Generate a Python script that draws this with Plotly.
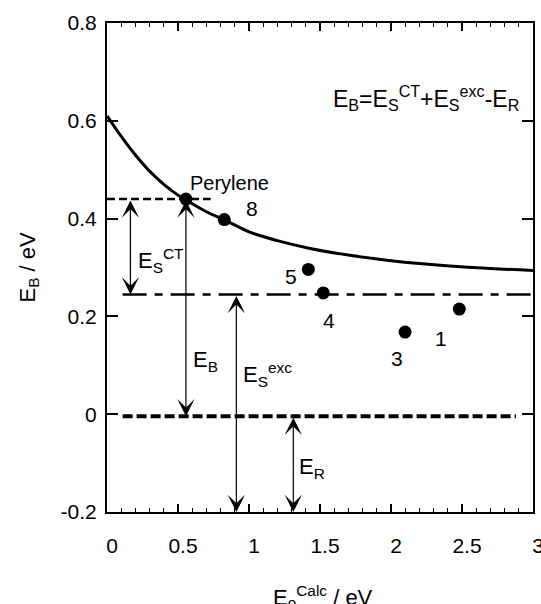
import plotly.graph_objects as go

# ---- data ----
compound_names = ["Perylene", "8", "5", "4", "3", "1"]
compound_e0 = [0.556, 0.826, 1.418, 1.523, 2.099, 2.481]
compound_eb = [0.440, 0.398, 0.296, 0.248, 0.168, 0.215]

curve_e0 = [0.0, 0.1, 0.2, 0.3, 0.4, 0.5, 0.55, 0.7, 0.83, 1.0, 1.2, 1.43, 1.71, 2.0, 2.2, 2.41, 2.7, 3.0]
curve_eb = [0.610, 0.568, 0.530, 0.497, 0.470, 0.448, 0.439, 0.414, 0.397, 0.373, 0.355, 0.339, 0.325, 0.314, 0.308, 0.303, 0.298, 0.294]

ct_level_x = [0.0, 0.73]
ct_level_y = [0.44, 0.44]
exc_level_x = [0.11, 3.0]
exc_level_y = [0.245, 0.245]
zero_level_x = [0.11, 2.88]
zero_level_y = [-0.004, -0.004]

arrow_x = [0.165, 0.556, 0.911, 1.312]
arrow_top = [0.44, 0.44, 0.245, -0.004]
arrow_bottom = [0.245, -0.004, -0.2, -0.2]
arrow_labels = ["E<sub>S</sub><sup>CT</sup>", "E<sub>B</sub>",
                "E<sub>S</sub><sup>exc</sup>", "E<sub>R</sub>"]
arrow_label_x = [0.206, 0.595, 0.947, 1.341]
arrow_label_y = [0.314, 0.109, 0.081, -0.110]

x_tick_vals = [0, 0.5, 1, 1.5, 2, 2.5, 3]
x_tick_text = ["0", "0.5", "1", "1.5", "2", "2.5", "3"]
y_tick_vals = [-0.2, 0, 0.2, 0.4, 0.6, 0.8]
y_tick_text = ["-0.2", "0", "0.2", "0.4", "0.6", "0.8"]

FONT = "Liberation Sans, Arial, sans-serif"

fig = go.Figure()

fig.add_trace(go.Scatter(x=curve_e0, y=curve_eb, mode="lines",
                         line=dict(color="black", width=3, shape="spline"),
                         hoverinfo="skip"))
fig.add_trace(go.Scatter(x=ct_level_x, y=ct_level_y, mode="lines",
                         line=dict(color="black", width=2.5, dash="8px,4px")))
fig.add_trace(go.Scatter(x=exc_level_x, y=exc_level_y, mode="lines",
                         line=dict(color="black", width=2.5, dash="24px,8px,8px,8px")))
fig.add_trace(go.Scatter(x=zero_level_x, y=zero_level_y, mode="lines",
                         line=dict(color="black", width=4, dash="10px,4px")))
fig.add_trace(go.Scatter(x=compound_e0, y=compound_eb, mode="markers",
                         marker=dict(color="black", size=13)))

label_shifts = [(44, 16), (28, 11), (-17, -7), (6, -28), (-8, -26), (-18, -29)]
for name, x, y, (dx, dy) in zip(compound_names, compound_e0, compound_eb, label_shifts):
    fig.add_annotation(x=x, y=y, text=name, showarrow=False,
                       xshift=dx, yshift=dy,
                       font=dict(family=FONT, size=21 if name != "Perylene" else 20, color="black"))

for xa, yt, yb in zip(arrow_x, arrow_top, arrow_bottom):
    fig.add_annotation(x=xa, y=yb, ax=xa, ay=yt, axref="x", ayref="y",
                       xref="x", yref="y", text="", showarrow=True,
                       arrowside="end+start", arrowhead=3, startarrowhead=3,
                       arrowsize=2.4, startarrowsize=2.4, arrowwidth=1.2,
                       arrowcolor="black", standoff=0, startstandoff=0)

for lab, lx, ly in zip(arrow_labels, arrow_label_x, arrow_label_y):
    fig.add_annotation(x=lx, y=ly, text=lab, showarrow=False,
                       xanchor="left", yanchor="middle",
                       font=dict(family=FONT, size=22, color="black"))

fig.add_annotation(x=1.577, y=0.646, xanchor="left", yanchor="middle",
                   text="E<sub>B</sub>=E<sub>S</sub><sup>CT</sup>+E<sub>S</sub><sup>exc</sup>-E<sub>R</sub>",
                   showarrow=False, font=dict(family=FONT, size=23, color="black"))

# axis titles
fig.add_annotation(xref="paper", yref="paper", x=0, y=0.5, xshift=-79,
                   text="E<sub>B</sub> / eV", textangle=-90, showarrow=False,
                   xanchor="center", yanchor="middle",
                   font=dict(family=FONT, size=22, color="black"))
fig.add_annotation(xref="paper", yref="paper", x=0.508, y=0, yshift=-85,
                   text="E<sub>0</sub><sup>Calc</sup> / eV", showarrow=False,
                   xanchor="center", yanchor="middle",
                   font=dict(family=FONT, size=22, color="black"))

fig.update_layout(
    width=541, height=604,
    margin=dict(l=107, r=8, t=23, b=92, autoexpand=False),
    paper_bgcolor="white", plot_bgcolor="white",
    showlegend=False,
    font=dict(family=FONT, size=21, color="black"),
)
fig.update_xaxes(range=[0, 3], tickmode="array", tickvals=x_tick_vals, ticktext=x_tick_text,
                 ticks="inside", ticklen=8, tickwidth=1.5, tickcolor="black",
                 showline=True, linecolor="black", linewidth=2, mirror="ticks",
                 showgrid=False, zeroline=False, ticklabelstandoff=14, ticklabelshift=5,
                 ticklabeloverflow="allow", automargin=False,
                 tickfont=dict(family=FONT, size=21, color="black"),
                 minor=dict(tickmode="linear", tick0=0, dtick=0.1, ticks="inside",
                            ticklen=4, tickwidth=1.2, tickcolor="black", showgrid=False))
fig.update_yaxes(range=[-0.2, 0.8], tickmode="array", tickvals=y_tick_vals, ticktext=y_tick_text,
                 ticks="inside", ticklen=11, tickwidth=1.5, tickcolor="black",
                 showline=True, linecolor="black", linewidth=2, mirror="ticks",
                 showgrid=False, zeroline=False, ticklabelstandoff=4, automargin=False,
                 tickfont=dict(family=FONT, size=21, color="black"))

fig.write_html("out.html")
